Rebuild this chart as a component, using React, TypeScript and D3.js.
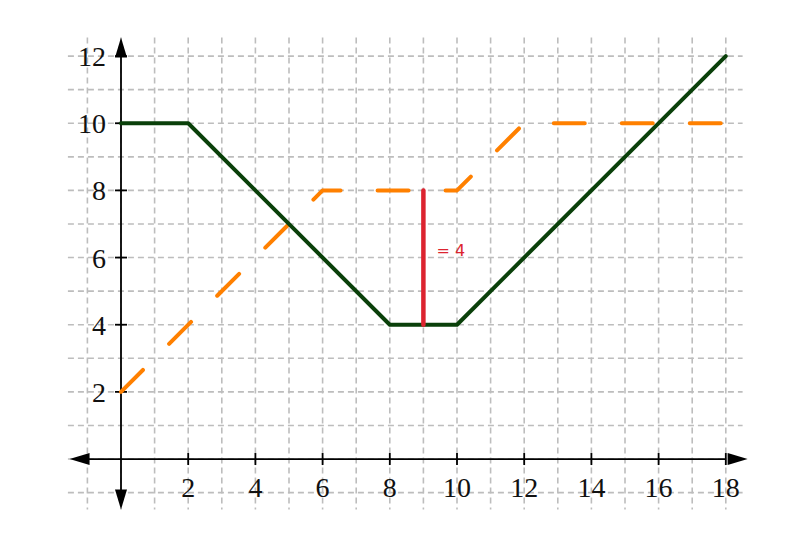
import React, { useEffect, useRef } from "react";
import * as d3 from "d3";

// piecewise linear functions
const greenX = [0, 2, 8, 10, 18];
const greenY = [10, 10, 4, 4, 12];
const orangeX = [0, 6, 10, 12, 18];
const orangeY = [2, 8, 8, 10, 10];
const gapX = [9, 9];
const gapY = [4, 8];
const gapLabel = "= 4";
const xTicks = [2, 4, 6, 8, 10, 12, 14, 16, 18];
const yTicks = [2, 4, 6, 8, 10, 12];

function drawChart(node: SVGSVGElement) {
  const width = 798;
  const height = 539;
  const x = d3.scaleLinear().domain([-1.5, 18.5]).range([70.6, 742.6]);
  const y = d3.scaleLinear().domain([-1.5, 12.5]).range([509.4, 39.3]);

  const svg = d3.select(node);
  svg.selectAll("*").remove();
  svg.attr("width", width).attr("height", height);

  const g = svg.append("g");

  // dashed grid on every unit
  const gridCol = "#bdbdbd";
  g.selectAll(".vgrid")
    .data(d3.range(-1, 19))
    .enter().append("line")
    .attr("x1", d => x(d)).attr("x2", d => x(d))
    .attr("y1", y(12.55)).attr("y2", y(-1.5))
    .attr("stroke", gridCol).attr("stroke-width", 1.6)
    .attr("stroke-dasharray", "6,4");
  g.selectAll(".hgrid")
    .data(d3.range(-1, 13))
    .enter().append("line")
    .attr("x1", x(-1.58)).attr("x2", x(18.5))
    .attr("y1", d => y(d)).attr("y2", d => y(d))
    .attr("stroke", gridCol).attr("stroke-width", 1.6)
    .attr("stroke-dasharray", "6,4");

  // axes
  g.append("line")
    .attr("x1", x(-1.0)).attr("x2", x(18.0))
    .attr("y1", y(0)).attr("y2", y(0))
    .attr("stroke", "#000").attr("stroke-width", 1.8);
  g.append("line")
    .attr("x1", x(0)).attr("x2", x(0))
    .attr("y1", y(12.0)).attr("y2", y(-1.0))
    .attr("stroke", "#000").attr("stroke-width", 1.8);

  const arrow = (tip: [number, number], dir: [number, number]) => {
    const len = 20, half = 6;
    const bx = tip[0] - dir[0] * len, by = tip[1] - dir[1] * len;
    const px = -dir[1] * half, py = dir[0] * half;
    g.append("path")
      .attr("d", `M${tip[0]},${tip[1]}L${bx + px},${by + py}L${bx - px},${by - py}Z`)
      .attr("fill", "#000");
  };
  arrow([x(18.65), y(0)], [1, 0]);
  arrow([x(-1.53), y(0)], [-1, 0]);
  arrow([x(0), y(12.55)], [0, -1]);
  arrow([x(0), y(-1.5)], [0, 1]);

  // ticks and labels
  const serif = "'Liberation Serif', serif";
  g.selectAll(".xt")
    .data(xTicks)
    .enter().append("line")
    .attr("x1", d => x(d)).attr("x2", d => x(d))
    .attr("y1", y(0) - 6).attr("y2", y(0) + 6)
    .attr("stroke", "#000").attr("stroke-width", 1.8);
  g.selectAll(".xl")
    .data(xTicks)
    .enter().append("text")
    .attr("x", d => x(d))
    .attr("y", y(0) + 38)
    .attr("text-anchor", "middle")
    .style("font-family", serif)
    .style("font-size", "28px")
    .attr("fill", "#111")
    .text(d => d);
  g.selectAll(".yt")
    .data(yTicks)
    .enter().append("line")
    .attr("x1", x(0) - 6).attr("x2", x(0) + 6)
    .attr("y1", d => y(d)).attr("y2", d => y(d))
    .attr("stroke", "#000").attr("stroke-width", 1.8);
  g.selectAll(".yl")
    .data(yTicks)
    .enter().append("text")
    .attr("x", x(0) - 15)
    .attr("y", d => y(d) + 10)
    .attr("text-anchor", "end")
    .style("font-family", serif)
    .style("font-size", "28px")
    .attr("fill", "#111")
    .text(d => d);

  const path = (xs: number[], ys: number[]) =>
    d3.line<[number, number]>().x(d => x(d[0])).y(d => y(d[1]))(xs.map((v, i) => [v, ys[i]]));

  // orange dashed
  g.append("path")
    .attr("d", path(orangeX, orangeY))
    .attr("fill", "none")
    .attr("stroke", "#ff8000")
    .attr("stroke-width", 4)
    .attr("stroke-linecap", "round")
    .attr("stroke-linejoin", "round")
    .attr("stroke-dasharray", "31,37");

  // green solid
  g.append("path")
    .attr("d", path(greenX, greenY))
    .attr("fill", "none")
    .attr("stroke", "#0a400a")
    .attr("stroke-width", 4)
    .attr("stroke-linecap", "round")
    .attr("stroke-linejoin", "round");

  // red gap
  g.append("path")
    .attr("d", path(gapX, gapY))
    .attr("fill", "none")
    .attr("stroke", "#dc2430")
    .attr("stroke-width", 4.5)
    .attr("stroke-linecap", "round");
  g.append("text")
    .attr("x", x(9) + 13)
    .attr("y", y(6) - 2)
    .style("font-family", "'DejaVu Sans', sans-serif")
    .style("font-size", "16px")
    .attr("fill", "#dc2430")
    .text(gapLabel);
}

const App = () => {
  const ref = useRef<SVGSVGElement>(null);
  useEffect(() => {
    if (ref.current) drawChart(ref.current);
  });
  return (
    <svg ref={ref} style={{ position: "absolute", left: 0, top: 0, background: "#fff" }} />
  );
};

export default App;
